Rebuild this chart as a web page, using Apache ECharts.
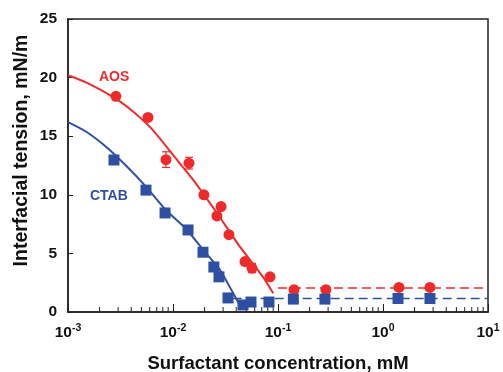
<!DOCTYPE html>
<html>
<head>
<meta charset="utf-8">
<script src="https://cdn.jsdelivr.net/npm/echarts@6/dist/echarts.min.js"></script>
<style>
  html, body { margin: 0; padding: 0; background: #fff; }
  #chart { width: 503px; height: 372px; }
</style>
</head>
<body>
<div id="chart"></div>
<script>
// measured points, AOS (red circles)
const aosConc = [0.00286, 0.00578, 0.00857, 0.0142, 0.0197, 0.0262, 0.0287, 0.0341, 0.0485, 0.0565, 0.084, 0.142, 0.286, 1.42, 2.8];
const aosIFT  = [18.4, 16.6, 13.0, 12.7, 10.0, 8.2, 9.0, 6.6, 4.3, 3.75, 3.0, 1.9, 1.9, 2.1, 2.1];
const aosErrConc = [0.00857, 0.0142, 0.0565];
const aosErr     = [0.67, 0.5, 0.4];

// measured points, CTAB (blue squares)
const ctabConc = [0.00274, 0.00553, 0.0084, 0.0139, 0.0193, 0.0245, 0.0274, 0.0334, 0.0464, 0.0553, 0.082, 0.14, 0.28, 1.39, 2.8];
const ctabIFT  = [12.97, 10.4, 8.45, 7.0, 5.1, 3.84, 3.0, 1.2, 0.6, 0.85, 0.85, 1.1, 1.1, 1.15, 1.15];

// fitted curves
const aosFitConc = [0.001, 0.00148, 0.00269, 0.00416, 0.00646, 0.01, 0.0155, 0.0262, 0.0435, 0.0719, 0.09];
const aosFitIFT  = [20.2, 19.6, 18.35, 17.1, 15.5, 13.4, 11.3, 8.45, 5.55, 3.0, 1.6];
const ctabFitConc = [0.001, 0.00148, 0.0023, 0.00356, 0.00553, 0.00857, 0.0136, 0.0202, 0.028, 0.0349, 0.045];
const ctabFitIFT  = [16.2, 15.4, 14.1, 12.5, 10.7, 8.7, 7.0, 5.1, 3.6, 2.1, 0.3];

// plateau (CMC) dashed lines
const aosPlateauConc = [0.1, 10];
const aosPlateauIFT  = [2.05, 2.05];
const ctabPlateauConc = [0.037, 10];
const ctabPlateauIFT  = [1.15, 1.15];

// minor log ticks 2..9 per decade
const minorTicks = [];
[0.001, 0.01, 0.1, 1].forEach(d => { for (let k = 2; k <= 9; k++) minorTicks.push([+(k * d).toPrecision(3), 0]); });

const RED = '#ee2b2b';
const BLUE = '#2f4fa2';
const FONT = '"Liberation Sans", Arial, sans-serif';

const zip = (xs, ys) => xs.map((x, i) => [x, ys[i]]);

const chart = echarts.init(document.getElementById('chart'));
chart.setOption({
  animation: false,
  backgroundColor: '#fff',
  grid: {
    left: 68, right: 15, top: 19, bottom: 60, outerBoundsMode: 'none', containLabel: false,
    show: true, borderColor: '#222', borderWidth: 1.5, backgroundColor: 'transparent'
  },
  xAxis: {
    type: 'log', logBase: 10, min: 0.001, max: 10,
    name: 'Surfactant concentration, mM',
    nameLocation: 'middle', nameGap: 42,
    nameTextStyle: { fontFamily: FONT, fontWeight: 'bold', fontSize: 18.5, color: '#111' },
    axisLine: { lineStyle: { color: '#222', width: 1.5 } },
    axisTick: { inside: true, length: 8, lineStyle: { color: '#222' } },
    splitLine: { show: false },
    axisLabel: {
      margin: 11,
      formatter: v => '{b|10}{s|' + Math.round(Math.log10(v)) + '}',
      rich: {
        b: { fontFamily: FONT, fontWeight: 'bold', fontSize: 15.5, color: '#111' },
        s: { fontFamily: FONT, fontWeight: 'bold', fontSize: 10.5, color: '#111', verticalAlign: 'top', padding: [0, 0, 8, 0] }
      }
    }
  },
  yAxis: {
    type: 'value', min: 0, max: 25, interval: 5,
    name: 'Interfacial tension, mN/m',
    nameLocation: 'middle', nameGap: 36, nameMoveOverlap: false,
    nameTextStyle: { fontFamily: FONT, fontWeight: 'bold', fontSize: 19.5, color: '#111', padding: [0, 0, 0, 30] },
    axisLine: { show: true, lineStyle: { color: '#222', width: 1.5 } },
    axisTick: { show: true, inside: true, length: 5, lineStyle: { color: '#222' } },
    splitLine: { show: false },
    axisLabel: { margin: 11, fontFamily: FONT, fontWeight: 'bold', fontSize: 15.5, color: '#111' }
  },
  graphic: [
    { type: 'text', left: 99, top: 70, style: { text: 'AOS', fill: RED, font: 'bold 14px ' + FONT } },
    { type: 'text', left: 90, top: 189, style: { text: 'CTAB', fill: BLUE, font: 'bold 14px ' + FONT } }
  ],
  series: [
    {
      type: 'custom', silent: true, z: 1,
      data: minorTicks,
      renderItem: (params, api) => {
        const p = api.coord([api.value(0), 0]);
        return { type: 'line', shape: { x1: p[0], y1: p[1], x2: p[0], y2: p[1] - 5 }, style: { stroke: '#222', lineWidth: 1 } };
      }
    },
    { type: 'line', data: zip(aosFitConc, aosFitIFT), smooth: 0.2, showSymbol: false, lineStyle: { color: RED, width: 2 }, z: 2 },
    { type: 'line', data: zip(ctabFitConc, ctabFitIFT), smooth: 0.2, showSymbol: false, lineStyle: { color: BLUE, width: 2 }, z: 2 },
    { type: 'line', data: zip(aosPlateauConc, aosPlateauIFT), showSymbol: false, lineStyle: { color: RED, width: 1.6, type: [9, 5] }, z: 2 },
    { type: 'line', data: zip(ctabPlateauConc, ctabPlateauIFT), showSymbol: false, lineStyle: { color: BLUE, width: 1.6, type: [9, 5] }, z: 2 },
    {
      type: 'custom', z: 3,
      data: aosErrConc.map((c, i) => [c, aosIFT[aosConc.indexOf(c)], aosErr[i]]),
      renderItem: (params, api) => {
        const x = api.value(0), y = api.value(1), e = api.value(2);
        const lo = api.coord([x, y - e]), hi = api.coord([x, y + e]);
        const st = { stroke: RED, lineWidth: 1.2 };
        return {
          type: 'group', children: [
            { type: 'line', shape: { x1: lo[0], y1: lo[1], x2: hi[0], y2: hi[1] }, style: st },
            { type: 'line', shape: { x1: lo[0] - 4, y1: lo[1], x2: lo[0] + 4, y2: lo[1] }, style: st },
            { type: 'line', shape: { x1: hi[0] - 4, y1: hi[1], x2: hi[0] + 4, y2: hi[1] }, style: st }
          ]
        };
      }
    },
    { type: 'scatter', data: zip(aosConc, aosIFT), symbol: 'circle', symbolSize: 11, itemStyle: { color: RED, opacity: 1 }, z: 4 },
    { type: 'scatter', data: zip(ctabConc, ctabIFT), symbol: 'rect', symbolSize: 11, itemStyle: { color: BLUE, opacity: 1 }, z: 4 }
  ]
});
</script>
</body>
</html>
